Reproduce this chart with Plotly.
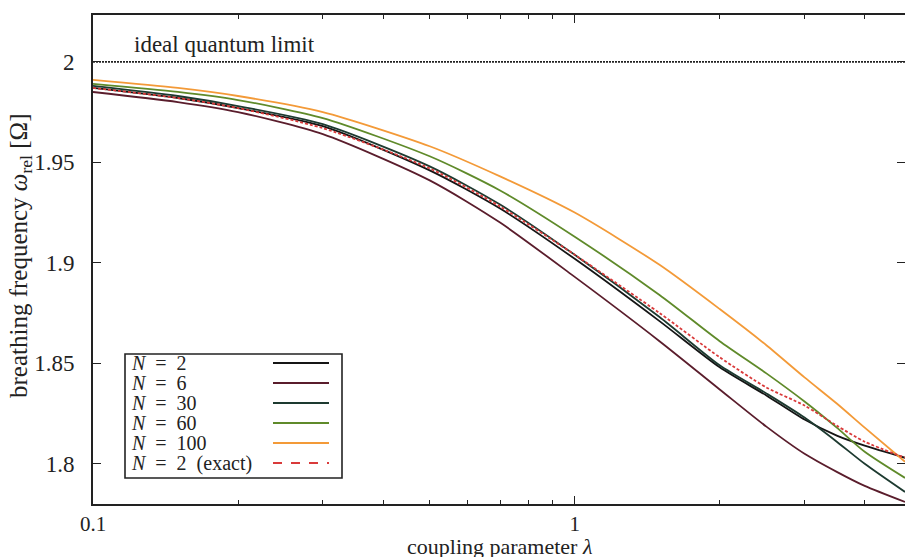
import plotly.graph_objects as go

# ---- data ----
lam = [0.1, 0.15, 0.2, 0.3, 0.5, 0.7, 1.0, 1.5, 2.0, 2.5, 3.0, 3.5, 4.0, 4.85]
w_N2 = [1.987, 1.982, 1.977, 1.968, 1.946, 1.927, 1.902, 1.871, 1.848, 1.834, 1.822, 1.814, 1.809, 1.803]
w_N6 = [1.985, 1.980, 1.975, 1.964, 1.941, 1.920, 1.893, 1.861, 1.837, 1.8185, 1.805, 1.796, 1.789, 1.781]
w_N30 = [1.988, 1.983, 1.978, 1.969, 1.948, 1.929, 1.904, 1.873, 1.849, 1.835, 1.823, 1.811, 1.800, 1.786]
w_N60 = [1.989, 1.985, 1.981, 1.972, 1.953, 1.936, 1.913, 1.884, 1.861, 1.845, 1.831, 1.818, 1.806, 1.793]
w_N100 = [1.991, 1.987, 1.983, 1.975, 1.958, 1.943, 1.925, 1.899, 1.877, 1.859, 1.843, 1.830, 1.818, 1.801]
w_exact = [1.987, 1.982, 1.977, 1.967, 1.947, 1.928, 1.904, 1.875, 1.853, 1.838, 1.829, 1.819, 1.811, 1.803]

limit_x = [0.1, 4.85]
limit_y = [2.0, 2.0]

series_names = ["N = 2", "N = 6", "N = 30", "N = 60", "N = 100", "N = 2 (exact)"]
legend_labels = ["<i>N</i>  =  2", "<i>N</i>  =  6", "<i>N</i>  =  30", "<i>N</i>  =  60",
                 "<i>N</i>  =  100", "<i>N</i>  =  2  (exact)"]
series_values = [w_N2, w_N6, w_N30, w_N60, w_N100, w_exact]
colors = ["#151515", "#5a1d2c", "#1d3a30", "#5f8a2a", "#f39a38", "#d93a3a"]
dashes = ["solid", "solid", "solid", "solid", "solid", "3px,2px"]

y_ticks = [1.8, 1.85, 1.9, 1.95, 2.0]
y_ticktext = ["1.8", "1.85", "1.9", "1.95", "2"]
x_ticks = [0.1, 1]
x_ticktext = ["0.1", "1"]
x_minor = [0.2, 0.3, 0.4, 0.5, 0.6, 0.7, 0.8, 0.9, 2, 3, 4]

x_title = "coupling parameter <i>λ</i>"
y_title = "breathing frequency <i>ω</i><sub>rel</sub> [Ω]"
limit_label = "ideal quantum limit"

FONT = "Liberation Serif"
fig = go.Figure()

fig.add_trace(go.Scatter(x=limit_x, y=limit_y, mode="lines",
                         line=dict(color="#222", width=1.6, dash="2px,1px"),
                         showlegend=False, hoverinfo="skip"))

for name, vals, c, d in zip(series_names, series_values, colors, dashes):
    fig.add_trace(go.Scatter(x=lam, y=vals, mode="lines", name=name,
                             line=dict(color=c, width=1.8, dash=d, shape="spline", smoothing=0.7),
                             showlegend=False))

# plot area pixel geometry
L, R, T, B = 93, 0, 15, 53
W, H = 905, 557
pw, ph = W - L - R, H - T - B

def px(x):
    return (x - L) / pw

def py(y):
    return (H - B - y) / ph

shapes = []
annotations = []
# legend box
shapes.append(dict(type="rect", xref="paper", yref="paper",
                   x0=px(125), x1=px(342), y0=py(478), y1=py(354),
                   line=dict(color="#222", width=1.6), fillcolor="white", layer="above"))
for i, (lab, c, d) in enumerate(zip(legend_labels, colors, dashes)):
    yc = 363 + 20 * i
    shapes.append(dict(type="line", xref="paper", yref="paper",
                       x0=px(273), x1=px(329), y0=py(yc), y1=py(yc),
                       line=dict(color=c, width=1.8, dash="dash" if d != "solid" else "solid"),
                       layer="above"))
    annotations.append(dict(text=lab, xref="paper", yref="paper", x=px(129), y=py(yc),
                            xanchor="left", yanchor="middle", showarrow=False,
                            font=dict(family=FONT, size=20, color="#222")))

annotations.append(dict(text=limit_label, xref="paper", yref="paper",
                        x=px(132), y=py(45), xanchor="left", yanchor="middle",
                        showarrow=False, font=dict(family=FONT, size=23, color="#222")))
# axis titles
annotations.append(dict(text=x_title, xref="paper", yref="paper",
                        x=px(499), y=py(546), xanchor="center", yanchor="middle",
                        showarrow=False, font=dict(family=FONT, size=22, color="#222")))
annotations.append(dict(text=y_title, xref="paper", yref="paper",
                        x=px(20), y=py(256), xanchor="center", yanchor="middle", textangle=-90,
                        showarrow=False, font=dict(family=FONT, size=25, color="#222")))

fig.update_layout(
    width=W, height=H,
    margin=dict(l=L, r=R, t=T, b=B),
    plot_bgcolor="white", paper_bgcolor="white",
    font=dict(family=FONT, size=23, color="#222"),
    showlegend=False,
    shapes=shapes, annotations=annotations,
)
fig.update_xaxes(type="log", range=[-1, 0.6857], tickvals=x_ticks, ticktext=x_ticktext,
                 ticks="inside", ticklen=8, tickwidth=1.3, tickcolor="#222",
                 minor=dict(tickvals=x_minor, ticks="inside", ticklen=4, tickcolor="#222", tickwidth=1.2),
                 showline=True, linecolor="#222", linewidth=1.6, mirror="ticks",
                 showgrid=False, zeroline=False, ticklabelstandoff=0,
                 tickfont=dict(family=FONT, size=21),
                 automargin=False)
fig.update_yaxes(range=[1.78, 2.0233], tickvals=y_ticks, ticktext=y_ticktext,
                 ticks="inside", ticklen=8, tickwidth=1.3, tickcolor="#222",
                 showline=True, linecolor="#222", linewidth=1.6, mirror="ticks",
                 showgrid=False, zeroline=False, ticklabelstandoff=12,
                 tickfont=dict(family=FONT, size=23),
                 automargin=False)

fig.write_html("out.html", config={"displayModeBar": False},
               post_script="document.body.style.margin='0';document.body.style.overflow='hidden';")
